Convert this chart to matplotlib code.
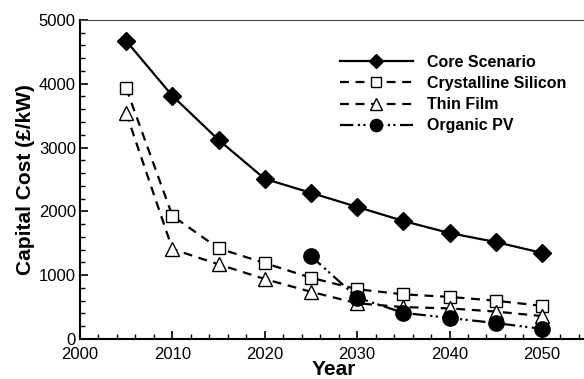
import numpy as np
import matplotlib
matplotlib.use("Agg")
import matplotlib.pyplot as plt
from matplotlib.ticker import MultipleLocator

plt.rcParams['font.family'] = ['Liberation Sans', 'DejaVu Sans']

# data
years = [2005, 2010, 2015, 2020, 2025, 2030, 2035, 2040, 2045, 2050]
core = [4670, 3810, 3120, 2510, 2290, 2070, 1850, 1660, 1520, 1350]
crystalline = [3930, 1930, 1420, 1190, 960, 780, 700, 660, 600, 520]
thin_film = [3540, 1410, 1170, 940, 740, 560, 500, 480, 430, 360]
opv_years = [2025, 2030, 2035, 2040, 2045, 2050]
organic = [1300, 650, 410, 330, 250, 160]

fig = plt.figure(figsize=(5.84, 3.79), dpi=100)
ax = fig.add_axes([0.137, 0.1055, 0.87, 0.842])

ax.plot(years, core, '-', color='black', lw=1.6, marker='D', ms=9,
        mfc='black', label='Core Scenario')
ax.plot(years, crystalline, color='black', lw=1.6, ls=(0, (4, 3)), marker='s', ms=9,
        mfc='white', mew=1.0, label='Crystalline Silicon')
ax.plot(years, thin_film, color='black', lw=1.6, ls=(0, (4, 3)), marker='^', ms=10,
        mfc='white', mew=1.0, label='Thin Film')
ax.plot(opv_years, organic, color='black', lw=1.6, ls=(0, (6, 2, 1, 1.5, 1, 2)), marker='o', ms=11,
        mfc='black', label='Organic PV')

ax.set_xlim(2000, 2055)
ax.set_ylim(0, 5000)
ax.xaxis.set_major_locator(MultipleLocator(10))
ax.xaxis.set_minor_locator(MultipleLocator(2))
ax.yaxis.set_major_locator(MultipleLocator(1000))
ax.yaxis.set_minor_locator(MultipleLocator(200))
ax.tick_params(which='both', direction='in', top=False, right=False, labelsize=12)
ax.tick_params(which='major', length=6, width=1.2)
ax.tick_params(which='minor', length=3.5, width=1)
ax.tick_params(axis='x', pad=6)
ax.tick_params(axis='y', pad=3)
ax.spines['right'].set_visible(False)
ax.spines['left'].set_linewidth(1.5)
ax.spines['bottom'].set_linewidth(1.5)
ax.spines['top'].set_color('#444444')

ax.set_xlabel('Year', fontsize=15, fontweight='bold', labelpad=-1.5)
ax.set_ylabel('Capital Cost (£/kW)', fontsize=15, fontweight='bold', labelpad=3)

leg = ax.legend(loc='upper right', bbox_to_anchor=(0.985, 0.935), frameon=False,
                prop={'weight': 'bold', 'size': 11.5}, handlelength=4.6,
                handletextpad=0.85, labelspacing=0.38, markerscale=0.8)

fig.savefig('out.png', dpi=100)
